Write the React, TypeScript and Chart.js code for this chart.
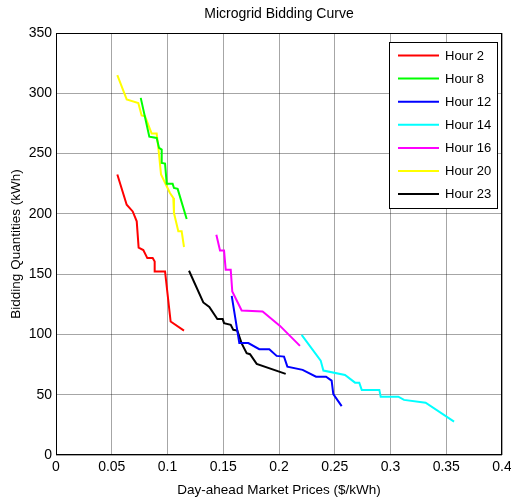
import React, { useEffect, useRef } from "react";
import { Chart, registerables } from "chart.js";

Chart.register(...registerables);

const FONT = "'Liberation Sans', Arial, Helvetica, sans-serif";

const seriesNames = ["Hour 2", "Hour 8", "Hour 12", "Hour 14", "Hour 16", "Hour 20", "Hour 23"];
const seriesColors = ["#ff0000", "#00ff00", "#0000ff", "#00ffff", "#ff00ff", "#ffff00", "#000000"];

const hour2Price = [0.055, 0.0634, 0.0688, 0.0724, 0.0741, 0.0783, 0.0819, 0.0867, 0.0885, 0.0885, 0.0978, 0.1028, 0.1148];
const hour2Qty = [232.6, 207.6, 202, 193.8, 172, 170, 163.3, 163.3, 160.5, 152.2, 152.2, 110.7, 103.2];

const hour8Price = [0.076, 0.0837, 0.0903, 0.0924, 0.0948, 0.0948, 0.0978, 0.0993, 0.1046, 0.1058, 0.1091, 0.1172];
const hour8Qty = [296.2, 264, 263, 254.7, 253.3, 242.3, 241.7, 225, 225, 221.5, 220.7, 195.8];

const hour12Price = [0.1576, 0.1644, 0.1725, 0.1823, 0.1913, 0.1979, 0.2045, 0.2075, 0.2212, 0.2332, 0.2422, 0.2472, 0.2487, 0.2562];
const hour12Qty = [132, 92.8, 92.8, 87.8, 87.8, 82.2, 81.6, 73.3, 70.6, 65, 65, 61.7, 50.5, 40.5];

const hour14Price = [0.2203, 0.2374, 0.2398, 0.2592, 0.2682, 0.272, 0.2742, 0.29, 0.2912, 0.307, 0.3121, 0.3315, 0.357];
const hour14Qty = [99.7, 78.3, 70, 66.4, 60, 60, 54, 54, 48.4, 48.4, 45.7, 43.4, 27.7];

const hour16Price = [0.1438, 0.1471, 0.1507, 0.1522, 0.1567, 0.1581, 0.1665, 0.1853, 0.2009, 0.2188];
const hour16Qty = [182.7, 169.7, 169.7, 153.7, 153.7, 135.6, 119.9, 119, 107.1, 90.5];

const hour20Price = [0.055, 0.0634, 0.0738, 0.0768, 0.0798, 0.0858, 0.0903, 0.0918, 0.0942, 0.0993, 0.1022, 0.1052, 0.1058, 0.1097, 0.1127, 0.1148];
const hour20Qty = [315, 294.9, 292, 281.6, 281, 266.6, 266.6, 254.7, 232.6, 222.9, 217.3, 213.2, 200.7, 185.5, 185.5, 172.5];

const hour23Price = [0.1193, 0.1321, 0.1375, 0.1447, 0.1495, 0.1507, 0.1567, 0.159, 0.1626, 0.1665, 0.171, 0.174, 0.18, 0.206];
const hour23Qty = [152.8, 126.5, 122.7, 112.7, 112.7, 109.4, 108, 103.8, 103.2, 92.6, 84.5, 83.6, 75.6, 67.3];

const seriesPrices = [hour2Price, hour8Price, hour12Price, hour14Price, hour16Price, hour20Price, hour23Price];
const seriesQtys = [hour2Qty, hour8Qty, hour12Qty, hour14Qty, hour16Qty, hour20Qty, hour23Qty];

const chartTitle = "Microgrid Bidding Curve";
const xTitle = "Day-ahead Market Prices ($/kWh)";
const yTitle = "Bidding Quantities (kWh)";

const frameLegendPlugin = {
  id: "frameLegend",
  afterDraw(chart: any) {
    const ctx = chart.ctx;
    const a = chart.chartArea;
    ctx.save();
    // frame
    ctx.strokeStyle = "#000";
    ctx.lineWidth = 1;
    ctx.strokeRect(a.left + 0.5, a.top + 0.5, a.right - a.left - 1, a.bottom - a.top - 1);
    // title
    ctx.fillStyle = "#000";
    ctx.font = `14px ${FONT}`;
    ctx.textAlign = "center";
    ctx.textBaseline = "middle";
    ctx.fillText(chartTitle, (a.left + a.right) / 2, 14);
    // legend
    const boxLeft = a.right - 113;
    const boxTop = a.top + 9;
    const boxW = 108;
    const rowH = 23.1;
    const boxH = 166;
    ctx.fillStyle = "#fff";
    ctx.fillRect(boxLeft, boxTop, boxW, boxH);
    ctx.strokeStyle = "#000";
    ctx.strokeRect(boxLeft + 0.5, boxTop + 0.5, boxW, boxH);
    ctx.font = `13px ${FONT}`;
    ctx.textAlign = "left";
    chart.data.datasets.forEach((ds: any, i: number) => {
      const cy = boxTop + 13.5 + i * rowH;
      ctx.strokeStyle = ds.borderColor;
      ctx.lineWidth = 2;
      ctx.beginPath();
      ctx.moveTo(boxLeft + 9, cy);
      ctx.lineTo(boxLeft + 50, cy);
      ctx.stroke();
      ctx.fillStyle = "#000";
      ctx.fillText(ds.label, boxLeft + 56, cy + 0.5);
    });
    ctx.restore();
  },
};

export default function App() {
  const ref = useRef<HTMLCanvasElement>(null);
  useEffect(() => {
    if (!ref.current) return;
    const datasets = seriesNames.map((name, i) => ({
      label: name,
      data: seriesPrices[i].map((p, j) => ({ x: p, y: seriesQtys[i][j] })),
      borderColor: seriesColors[i],
      backgroundColor: seriesColors[i],
      borderWidth: 2,
      pointRadius: 0,
      showLine: true,
      tension: 0,
    }));
    const chart = new Chart(ref.current, {
      type: "scatter",
      data: { datasets },
      plugins: [frameLegendPlugin],
      options: {
        animation: false,
        responsive: false,
        layout: { padding: { top: 33, right: 0, left: 0, bottom: 0 } },
        plugins: {
          legend: { display: false },
          title: { display: false },
          tooltip: { enabled: false },
        },
        scales: {
          x: {
            type: "linear",
            min: 0,
            max: 0.4,
            border: { display: false },
            grid: { color: "rgba(0,0,0,0.35)", drawTicks: false },
            ticks: {
              stepSize: 0.05,
              color: "#000",
              font: { family: FONT, size: 14 },
              padding: 4,
              maxRotation: 0,
              callback: (v: any) => String(Number(Number(v).toFixed(2))),
            },
            title: {
              display: true,
              text: xTitle,
              color: "#000",
              font: { family: FONT, size: 13.5 },
              padding: { top: 0, bottom: 2 },
            },
            afterFit: (s: any) => {
              s.height = 45;
              s.paddingRight = 9;
              s.paddingLeft = 0;
            },
          },
          y: {
            type: "linear",
            min: 0,
            max: 350,
            border: { display: false },
            grid: { color: "rgba(0,0,0,0.35)", drawTicks: false },
            ticks: {
              stepSize: 50,
              color: "#000",
              font: { family: FONT, size: 14 },
              padding: 4,
            },
            title: {
              display: true,
              text: yTitle,
              color: "#000",
              font: { family: FONT, size: 13.5 },
              padding: { top: 8, bottom: 0 },
            },
            afterFit: (s: any) => {
              s.width = 56;
            },
          },
        },
      },
    });
    return () => chart.destroy();
  }, []);
  return (
    <div style={{ position: "absolute", left: 0, top: 0, width: 511, height: 500, background: "#fff" }}>
      <canvas ref={ref} width={511} height={500} style={{ width: 511, height: 500 }} />
    </div>
  );
}
